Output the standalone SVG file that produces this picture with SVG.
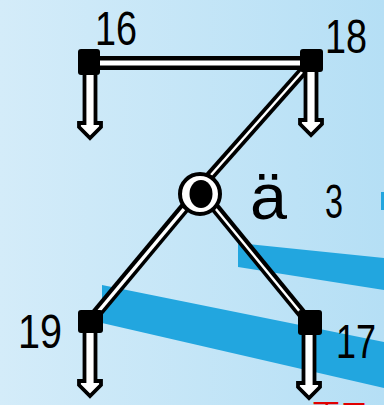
<svg xmlns="http://www.w3.org/2000/svg" width="384" height="405" viewBox="0 0 384 405">
<defs>
<linearGradient id="bg" x1="0" y1="0" x2="1" y2="0">
<stop offset="0" stop-color="#d4ecf9"/>
<stop offset="1" stop-color="#b5dff5"/>
</linearGradient>
<path id="arr" d="M-5.5,0 V48 H-11 V52 L0,63 L11,52 V48 H5.5 V0" fill="#fff" stroke="#000" stroke-width="3.8" stroke-linejoin="miter"/>
<style>
.lbl{font-family:"Liberation Sans",Arial,sans-serif;font-size:48px;fill:#000}
.band{fill:#22a6df}
.ek{stroke:#000;fill:none}
.ew{stroke:#fff;fill:none}
.sq{fill:#000}
</style>
</defs>
<rect width="384" height="405" fill="url(#bg)"/>
<g id="bands">
<polygon class="band" points="238,243 384,258 384,290 238,267"/>
<polygon class="band" points="102,285 384,342 384,388 102,323"/>
<rect class="band" x="381" y="192" width="3" height="18"/>
</g>
<g id="connectors">
<line class="ek" x1="95" y1="63" x2="305" y2="63" stroke-width="14"/>
<line class="ew" x1="98" y1="63" x2="302" y2="63" stroke-width="5"/>
<line class="ek" x1="304" y1="70" x2="209" y2="177" stroke-width="10"/>
<line class="ew" x1="302" y1="72" x2="211" y2="175" stroke-width="2.5"/>
<line class="ek" x1="186" y1="206" x2="96" y2="314" stroke-width="11"/>
<line class="ew" x1="184" y1="209" x2="98" y2="312" stroke-width="3.5"/>
<line class="ek" x1="213" y1="205" x2="303" y2="315" stroke-width="10"/>
<line class="ew" x1="215" y1="208" x2="301" y2="313" stroke-width="2.5"/>
<use href="#arr" x="90" y="75"/>
<use href="#arr" x="311" y="72"/>
<use href="#arr" x="90" y="333"/>
<use href="#arr" x="309" y="335"/>
</g>
<g id="n16">
<rect class="sq" x="78" y="49" width="22" height="26" rx="3"/>
<text class="lbl" x="95" y="45" textLength="42" lengthAdjust="spacingAndGlyphs">16</text>
</g>
<g id="n18">
<rect class="sq" x="300" y="49" width="23" height="23" rx="3"/>
<text class="lbl" x="325" y="53" textLength="42" lengthAdjust="spacingAndGlyphs">18</text>
</g>
<g id="n19">
<rect class="sq" x="78" y="310" width="25" height="23" rx="3"/>
<text class="lbl" x="18" y="348" textLength="44" lengthAdjust="spacingAndGlyphs">19</text>
</g>
<g id="n17">
<rect class="sq" x="298" y="310" width="24" height="25" rx="3"/>
<text class="lbl" x="336" y="358" textLength="40" lengthAdjust="spacingAndGlyphs">17</text>
</g>
<g id="n3">
<circle cx="200" cy="194" r="20" fill="#fff" stroke="#000" stroke-width="4"/>
<ellipse cx="201" cy="194" rx="11.5" ry="14" fill="#000"/>
<text class="lbl" x="250" y="219" style="font-size:64px" textLength="37" lengthAdjust="spacingAndGlyphs">ä</text>
<text class="lbl" x="325" y="218" textLength="18" lengthAdjust="spacingAndGlyphs">3</text>
</g>
<text x="312" y="424" font-family="'Noto Sans CJK SC',sans-serif" font-size="28" fill="#e00000">丁口</text>
</svg>
